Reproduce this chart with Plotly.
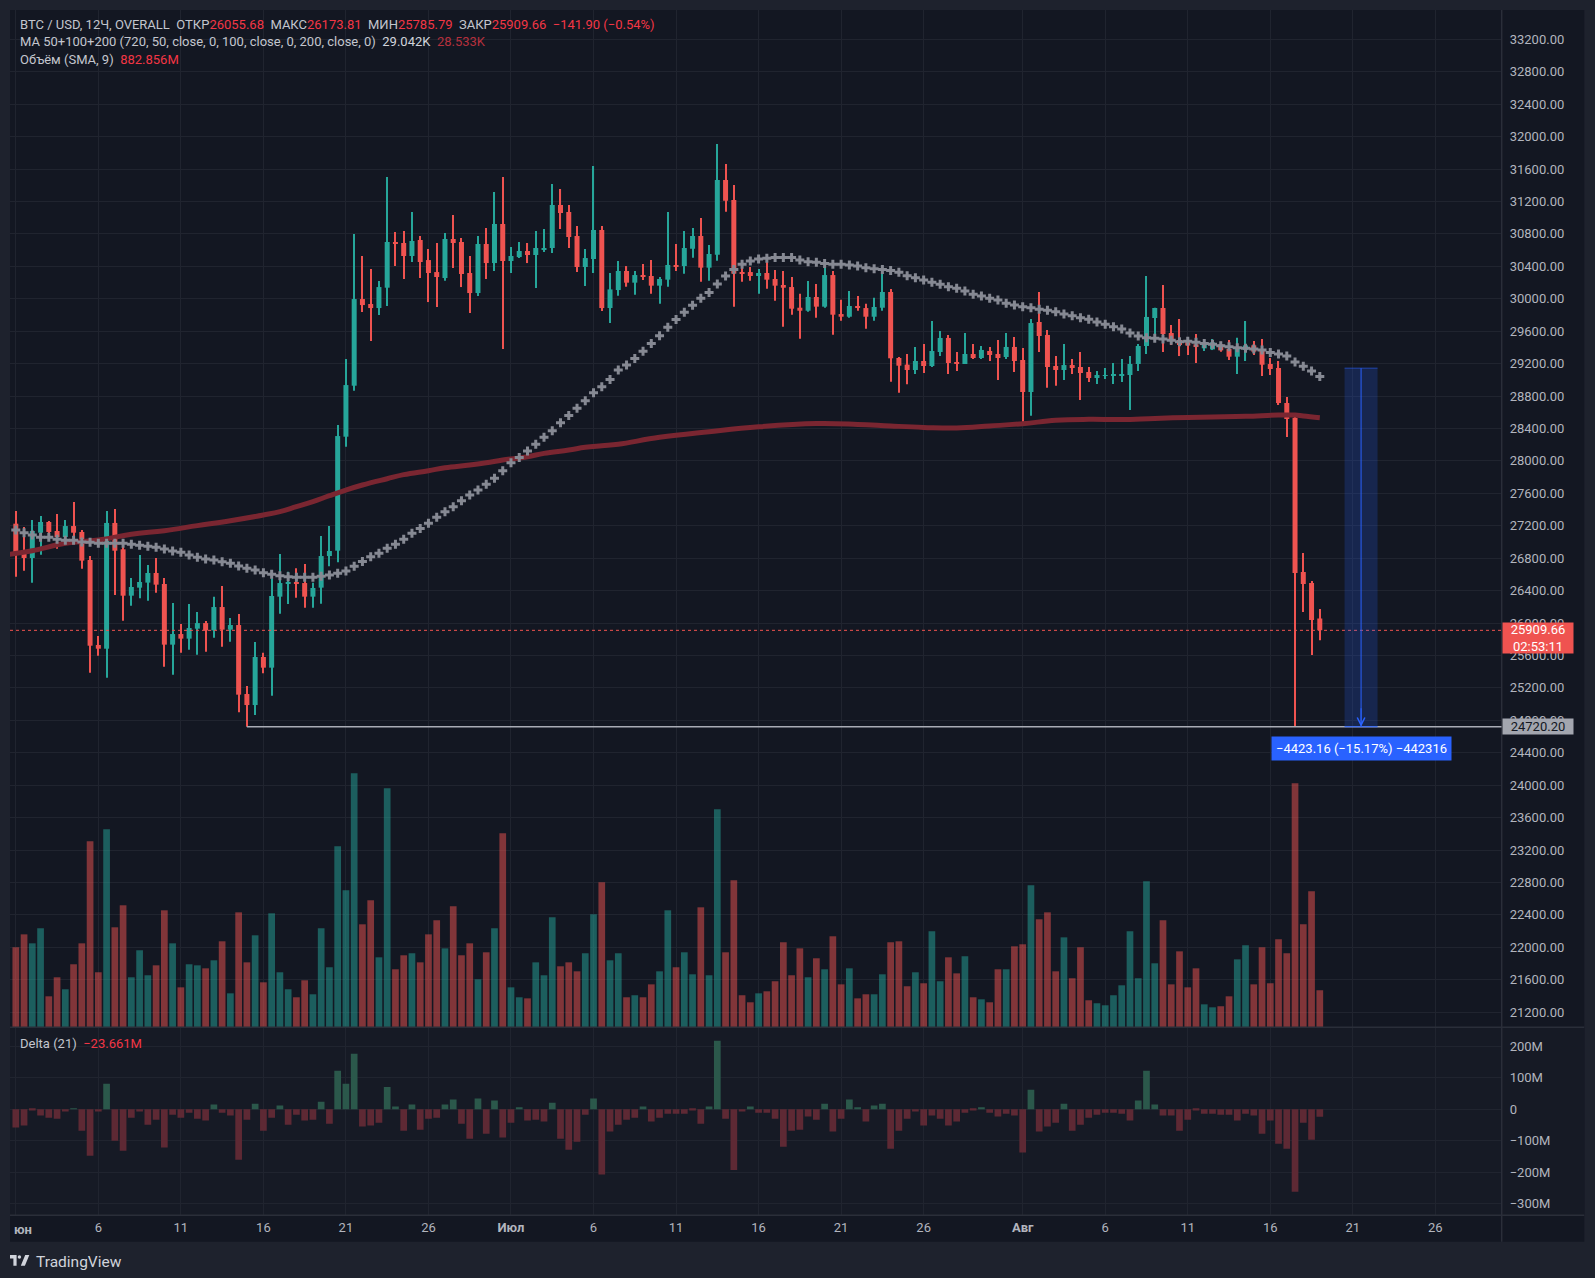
import pandas as pd
import plotly.graph_objects as go

# BTC / USD, 12h candles, OVERALL index: 1 Jun 2023 00:00 ... 19 Aug 2023 00:00
first_bar = "2023-06-01 00:00"

opens = [
    27225, 26888, 26802, 27114, 27246, 27135, 27061, 27196, 27123, 26777,
    25729, 25683, 27234, 26909, 26337, 26436, 26498, 26617, 26481, 25733,
    25864, 25807, 25930, 25999, 25909, 26197, 25918, 25975, 25124, 24988,
    25581, 25449, 26325, 26489, 26506, 26493, 26325, 26436, 26826, 26892,
    28298, 28927, 29996, 29935, 29885, 30136, 30699, 30687, 30527, 30724,
    30477, 30329, 30255, 30737, 30699, 30317, 30070, 30675, 30440, 30922,
    30465, 30514, 30588, 30539, 30613, 30625, 31156, 31070, 30774, 30391,
    30490, 30848, 29885, 30107, 30342, 30198, 30292, 30280, 30161, 30235,
    30416, 30403, 30617, 30774, 30383, 30543, 31464, 31218, 30317, 30329,
    30280, 30317, 30243, 30169, 30144, 29889, 29852, 30021, 29902, 30292,
    29811, 29778, 29910, 29885, 29778, 29889, 30083, 29269, 29187, 29121,
    29232, 29170, 29343, 29516, 29219, 29195, 29318, 29269, 29355, 29318,
    29281, 29405, 29244, 28849, 29713, 29553, 29170, 29121, 29182, 29158,
    29096, 29022, 29047, 29047, 29059, 29059, 29195, 29417, 29762, 29886,
    29577, 29491, 29462, 29437, 29388, 29375, 29437, 29380, 29285, 29367,
    29425, 29355, 29194, 29145, 28713, 28532, 26629, 26493, 26056,
]
highs = [
    27382, 27184, 27270, 27320, 27258, 27345, 27270, 27493, 27147, 26826,
    25840, 27382, 27406, 26942, 26555, 26839, 26716, 26802, 26555, 26247,
    25988, 26234, 26136, 26025, 26325, 26456, 26062, 26111, 25223, 25766,
    25634, 26551, 26851, 26633, 26674, 26728, 26498, 27073, 27196, 28442,
    29256, 30798, 30527, 30366, 30218, 31501, 30823, 30835, 31070, 30774,
    30613, 30687, 30811, 31032, 30749, 30527, 30774, 30872, 31316, 31501,
    30638, 30699, 30687, 30835, 30860, 31415, 31353, 31156, 30897, 30613,
    31637, 30897, 30317, 30465, 30403, 30342, 30428, 30477, 30268, 31069,
    30675, 30835, 30872, 30995, 30662, 31908, 31662, 31403, 30416, 30391,
    30366, 30477, 30354, 30342, 30268, 30062, 30218, 30181, 30444, 30342,
    29988, 30095, 30033, 29939, 30013, 30391, 30120, 29280, 29318, 29405,
    29441, 29725, 29602, 29553, 29343, 29577, 29441, 29417, 29405, 29491,
    29577, 29528, 29392, 29750, 30083, 29614, 29293, 29441, 29256, 29343,
    29158, 29108, 29145, 29207, 29256, 29293, 29441, 30280, 29890, 30169,
    29676, 29750, 29510, 29565, 29491, 29503, 29470, 29491, 29519, 29725,
    29478, 29503, 29268, 29231, 28787, 28574, 26863, 26518, 26174,
]
lows = [
    26572, 26646, 26497, 26843, 27106, 26917, 26958, 26983, 26670, 25387,
    25597, 25326, 26345, 26029, 26214, 26304, 26275, 26374, 25461, 25363,
    25634, 25671, 25609, 25646, 25819, 25708, 25770, 24900, 24720, 24865,
    25379, 25104, 26115, 26234, 26312, 26189, 26189, 26238, 26700, 26750,
    28175, 28866, 29836, 29478, 29799, 29910, 30403, 30243, 30453, 30255,
    29959, 29898, 30222, 30379, 30144, 29824, 30033, 30243, 30342, 29380,
    30317, 30502, 30440, 30132, 30576, 30564, 30860, 30625, 30329, 30157,
    30317, 29848, 29700, 30037, 30148, 30050, 30231, 30062, 29939, 30148,
    30342, 30309, 30506, 30210, 30223, 30469, 31074, 29902, 30210, 30223,
    30062, 30124, 29976, 29655, 29803, 29507, 29840, 29766, 29889, 29556,
    29729, 29766, 29852, 29630, 29729, 29852, 28977, 28841, 28944, 29071,
    29084, 29158, 29293, 29071, 29108, 29195, 29256, 29256, 29232, 28997,
    29256, 29096, 28483, 28557, 29343, 28903, 28927, 28997, 29071, 28751,
    28972, 28948, 29010, 28948, 28972, 28627, 29108, 29318, 29466, 29343,
    29429, 29293, 29306, 29207, 29355, 29367, 29347, 29244, 29071, 29232,
    29306, 29046, 29059, 28689, 28294, 24720, 26135, 25605, 25786,
]
closes = [
    26876, 26802, 27135, 27246, 27123, 27061, 27196, 27114, 26769, 25720,
    25683, 27234, 26892, 26337, 26444, 26506, 26617, 26473, 25733, 25864,
    25807, 25938, 25999, 25909, 26197, 25918, 25975, 25116, 24988, 25581,
    25449, 26333, 26493, 26506, 26481, 26325, 26432, 26826, 26888, 28306,
    28935, 29996, 29922, 29885, 30144, 30699, 30675, 30527, 30712, 30453,
    30317, 30268, 30737, 30687, 30305, 30070, 30675, 30440, 30922, 30465,
    30527, 30588, 30539, 30625, 30625, 31156, 31057, 30761, 30391, 30502,
    30848, 29885, 30115, 30342, 30198, 30292, 30268, 30161, 30243, 30416,
    30403, 30625, 30774, 30383, 30551, 31464, 31209, 30309, 30309, 30280,
    30317, 30235, 30161, 30136, 29877, 29852, 30021, 29902, 30292, 29803,
    29778, 29910, 29889, 29778, 29898, 30083, 29265, 29174, 29121, 29232,
    29170, 29355, 29516, 29207, 29195, 29318, 29269, 29368, 29306, 29269,
    29405, 29232, 28849, 29700, 29540, 29158, 29121, 29182, 29145, 29084,
    29022, 29059, 29059, 29071, 29071, 29195, 29417, 29775, 29886, 29565,
    29491, 29429, 29423, 29404, 29429, 29462, 29363, 29285, 29388, 29425,
    29347, 29186, 29133, 28713, 28516, 26616, 26481, 26037, 25910,
]
# volume per bar, millions
volume_m = [
    749, 870, 786, 927, 290, 468, 356, 590, 786, 1741,
    515, 1853, 936, 1142, 468, 721, 487, 580, 1095, 786,
    374, 590, 580, 552, 627, 805, 318, 1076, 608, 861,
    421, 1067, 515, 356, 281, 440, 309, 927, 562, 1694,
    1282, 2377, 964, 1189, 655, 2237, 543, 674, 693, 608,
    870, 1002, 739, 1133, 674, 786, 449, 702, 927, 1816,
    374, 281, 271, 608, 487, 1030, 571, 608, 524, 693,
    1058, 1357, 627, 693, 281, 300, 281, 402, 524, 1095,
    562, 702, 496, 1123, 487, 2040, 702, 1376, 300, 234,
    318, 337, 431, 796, 487, 739, 468, 646, 543, 852,
    402, 552, 271, 309, 309, 496, 796, 805, 384, 515,
    412, 899, 431, 655, 505, 665, 281, 262, 234, 543,
    543, 758, 777, 1329, 1011, 1076, 524, 842, 459, 749,
    253, 225, 206, 300, 393, 899, 459, 1367, 599, 1002,
    402, 711, 374, 552, 215, 187, 197, 290, 636, 768,
    402, 749, 412, 824, 693, 2284, 964, 1273, 346,
]
# Delta (21), millions
delta_m = [
    -58, -52, -4, -20, -27, -30, -7, 2, -68, -148,
    -7, 81, -100, -132, -27, -7, -49, -33, -122, -17,
    -27, -11, -30, -36, 15, -11, -20, -161, -33, 18,
    -68, -27, 12, -49, -17, -36, -33, 24, -46, 123,
    81, 177, -55, -52, -43, 71, 9, -68, 15, -65,
    -30, -27, 15, 31, -46, -94, 34, -78, 28, -90,
    -43, 5, -36, -33, -39, 21, -94, -129, -103, -17,
    34, -208, -71, -49, -33, -27, 9, -39, -27, -14,
    -14, -14, -4, -46, 9, 218, -30, -193, -7, 9,
    -11, -11, -30, -119, -68, -65, -23, -33, 18, -71,
    -30, 31, 5, -39, 12, 18, -126, -68, -30, -7,
    -52, -20, -30, -52, -39, -11, -4, 5, -11, -23,
    -14, -20, -138, 62, -71, -55, -43, 18, -68, -49,
    -27, -17, -11, -11, -14, -36, 28, 123, 15, -20,
    -20, -68, -33, -4, -14, -14, -17, -17, -36, -14,
    -20, -78, -36, -110, -126, -263, -43, -97, -23.661,
]
# MA 50 (grey crosses), one value per bar
ma50 = [
    27147, 27114, 27085, 27057, 27057, 27032, 27020, 27020, 27000, 26995,
    26983, 26983, 26983, 26983, 26970, 26958, 26946, 26933, 26913, 26888,
    26872, 26839, 26810, 26789, 26777, 26757, 26736, 26703, 26674, 26654,
    26621, 26600, 26584, 26572, 26563, 26563, 26563, 26576, 26592, 26613,
    26640, 26700, 26760, 26818, 26859, 26921, 26970, 27032, 27106, 27167,
    27229, 27303, 27373, 27435, 27509, 27579, 27640, 27710, 27784, 27879,
    27977, 28043, 28121, 28204, 28290, 28372, 28471, 28561, 28648, 28742,
    28841, 28915, 29005, 29120, 29182, 29264, 29351, 29449, 29544, 29647,
    29745, 29832, 29918, 30005, 30078, 30181, 30280, 30362, 30424, 30465,
    30490, 30498, 30510, 30510, 30510, 30477, 30457, 30449, 30436, 30424,
    30424, 30416, 30403, 30383, 30370, 30362, 30348, 30326, 30284, 30260,
    30231, 30202, 30177, 30149, 30128, 30095, 30054, 30034, 30005, 29984,
    29943, 29923, 29902, 29890, 29869, 29857, 29840, 29812, 29791, 29766,
    29746, 29713, 29684, 29655, 29627, 29577, 29540, 29520, 29511, 29503,
    29487, 29470, 29476, 29462, 29449, 29437, 29421, 29408, 29396, 29388,
    29380, 29367, 29338, 29318, 29293, 29219, 29166, 29108, 29042,
]
# slow MA (dark red line), read at these bar numbers
ma200_bar = [-1, 2, 6, 10, 14, 18, 22, 26, 30, 32, 34, 36, 38, 40, 42, 45, 47,
             50, 52, 55, 57, 59, 62, 64, 67, 69, 71, 73, 78, 84, 90, 97, 102,
             106, 110, 114, 118, 122, 126, 130, 134, 138, 142, 145, 149, 153,
             155, 156, 158]
ma200 = [26845, 26892, 26983, 27024, 27094, 27139, 27201, 27262, 27332, 27373,
         27435, 27497, 27570, 27640, 27702, 27780, 27830, 27879, 27915, 27949,
         27977, 28010, 28051, 28092, 28134, 28167, 28187, 28205, 28290, 28360,
         28420, 28460, 28450, 28430, 28413, 28405, 28430, 28458, 28500, 28512,
         28510, 28524, 28535, 28541, 28549, 28565, 28565, 28553, 28533]

tick_days = ["2023-06-01", "2023-06-06", "2023-06-11", "2023-06-16", "2023-06-21",
             "2023-06-26", "2023-07-01", "2023-07-06", "2023-07-11", "2023-07-16",
             "2023-07-21", "2023-07-26", "2023-08-01", "2023-08-06", "2023-08-11",
             "2023-08-16", "2023-08-21", "2023-08-26"]
tick_text = ["", "6", "11", "16", "21", "26", "<b>Июл</b>", "6", "11", "16", "21",
             "26", "<b>Авг</b>", "6", "11", "16", "21", "26"]
price_ticks = list(range(21200, 33201, 400))
delta_ticks = [200, 100, 0, -100, -200, -300]
delta_text = ["200M", "100M", "0", "−100M", "−200M", "−300M"]

level_low = 24720.20      # horizontal ray from the June low
level_from_bar = 28
range_top = 29143.36      # date/price range tool
range_bars = (161, 165)
last_price = 25909.66
countdown = "02:53:11"

UP, DOWN = "#26a69a", "#ef5350"
BG, FRAME, GRID, BORDER = "#131722", "#1e222d", "#20242f", "#2a2e39"
TXT = "#b2b5be"
FONT = "Roboto"

W, H = 1595, 1278
BAR_H = 12
PX_MS = BAR_H * 3600e3 / 8.253   # one screen pixel in ms


def fx(px):
    return px / W


def fy(py):
    return 1 - py / H


def bar_time(i):
    return pd.Timestamp(first_bar) + pd.Timedelta(hours=BAR_H * i)


bars = pd.date_range(first_bar, periods=len(opens), freq="12h")
up = [c >= o for o, c in zip(opens, closes)]
col = [UP if u else DOWN for u in up]
vol_col = ["rgba(38,166,154,0.5)" if u else "rgba(239,83,80,0.5)" for u in up]
delta_col = ["#2b584b" if d >= 0 else "#5e2934" for d in delta_m]
body_base = [min(o, c) for o, c in zip(opens, closes)]
body_h = [max(abs(c - o), 12) for o, c in zip(opens, closes)]
wick_h = [h - l for h, l in zip(highs, lows)]

x_range = [bar_time(-0.703), bar_time(180.04)]

fig = go.Figure()
fig.add_trace(go.Bar(x=bars, y=volume_m, width=6.7 * PX_MS, marker_color=vol_col,
                     marker_line_width=0, xaxis="x", yaxis="y"))
fig.add_trace(go.Bar(x=bars, y=wick_h, base=lows, width=1.1 * PX_MS, marker_color=col,
                     marker_line_width=0, xaxis="x", yaxis="y2"))
fig.add_trace(go.Bar(x=bars, y=body_h, base=body_base, width=5 * PX_MS, marker_color=col,
                     marker_line_width=0, xaxis="x", yaxis="y2"))
fig.add_trace(go.Scatter(x=[bar_time(i) for i in ma200_bar], y=ma200, mode="lines",
                         line=dict(color="#7a2631", width=5, shape="spline", smoothing=1.2),
                         xaxis="x", yaxis="y2"))
fig.add_trace(go.Scatter(x=bars, y=ma50, mode="markers",
                         marker=dict(symbol="cross", size=7.5, color="#868993",
                                     line_width=0),
                         xaxis="x", yaxis="y2", cliponaxis=True))
fig.add_trace(go.Bar(x=bars, y=delta_m, width=6.7 * PX_MS, marker_color=delta_col,
                     marker_line_width=0, xaxis="x2", yaxis="y3"))

shapes = [
    # panel backgrounds
    dict(type="rect", xref="paper", yref="paper", x0=fx(10), x1=fx(1584.3),
         y0=fy(1241.7), y1=fy(10), fillcolor=BG, line_width=0, layer="below"),
    dict(type="rect", xref="paper", yref="paper", x0=fx(10), x1=fx(1584.3),
         y0=fy(1215.3), y1=fy(1027.3), fillcolor="#161a25", line_width=0, layer="below"),
    # pane separators
    dict(type="line", xref="paper", yref="paper", x0=fx(10), x1=fx(1584.3),
         y0=fy(1027.3), y1=fy(1027.3), line=dict(color=BORDER, width=1.5)),
    dict(type="line", xref="paper", yref="paper", x0=fx(10), x1=fx(1584.3),
         y0=fy(1215.3), y1=fy(1215.3), line=dict(color=BORDER, width=1.5)),
    dict(type="line", xref="paper", yref="paper", x0=fx(1501.7), x1=fx(1501.7),
         y0=fy(1241.7), y1=fy(10), line=dict(color=BORDER, width=1.5)),
    # last price dotted line
    dict(type="line", xref="paper", yref="y2", x0=fx(10), x1=fx(1501.7),
         y0=last_price, y1=last_price, line=dict(color=DOWN, width=1, dash="dot")),
    # horizontal ray
    dict(type="line", xref="x", yref="y2", x0=bar_time(level_from_bar), x1=x_range[1],
         y0=level_low, y1=level_low, line=dict(color="#a9acb5", width=1.6)),
    # date/price range
    dict(type="rect", xref="x", yref="y2", x0=bar_time(range_bars[0]),
         x1=bar_time(range_bars[1]), y0=level_low, y1=range_top,
         fillcolor="rgba(41,98,255,0.2)", line_width=0),
    dict(type="line", xref="x", yref="y2", x0=bar_time(range_bars[0]),
         x1=bar_time(range_bars[1]), y0=range_top, y1=range_top,
         line=dict(color="rgba(41,98,255,0.6)", width=1)),
    dict(type="line", xref="x", yref="y2", x0=bar_time(range_bars[0]),
         x1=bar_time(range_bars[1]), y0=level_low, y1=level_low,
         line=dict(color="#2962ff", width=1)),
    dict(type="line", xref="x", yref="y2", x0=bar_time(sum(range_bars) / 2),
         x1=bar_time(sum(range_bars) / 2), y0=level_low, y1=range_top,
         line=dict(color="#2962ff", width=1)),
    # TradingView logo mark
    dict(type="path", xref="paper", yref="paper", fillcolor="#d1d4dc", line_width=0,
         path=f"M{fx(10)},{fy(1255)} L{fx(16.6)},{fy(1255)} L{fx(16.6)},{fy(1265.7)} "
              f"L{fx(13.4)},{fy(1265.7)} L{fx(13.4)},{fy(1258.4)} L{fx(10)},{fy(1258.4)} Z"),
    dict(type="circle", xref="paper", yref="paper", fillcolor="#d1d4dc", line_width=0,
         x0=fx(17.7), x1=fx(21.1), y0=fy(1258.7), y1=fy(1255.3)),
    dict(type="path", xref="paper", yref="paper", fillcolor="#d1d4dc", line_width=0,
         path=f"M{fx(20.8)},{fy(1265.7)} L{fx(24.9)},{fy(1265.7)} L{fx(29.3)},{fy(1255)} "
              f"L{fx(25.2)},{fy(1255)} Z"),
]

red = "#f23645"


def span(t, c):
    return f"<span style='color:{c}'>{t}</span>"


sp = "\u00a0\u00a0"
header1 = ("BTC / USD, 12Ч, OVERALL" + sp + "ОТКР" + span("26055.68", red) + sp
           + "МАКС" + span("26173.81", red) + sp + "МИН" + span("25785.79", red) + sp
           + "ЗАКР" + span("25909.66", red) + sp + span("−141.90 (−0.54%)", red))
header2 = ("MA 50+100+200 (720, 50, close, 0, 100, close, 0, 200, close, 0)" + sp
           + span("29.042K", "#d1d4dc") + sp + span("28.533K", "#b5303d"))
header3 = "Объём (SMA, 9)" + sp + span("882.856M", red)

annotations = [
    dict(xref="paper", yref="paper", x=fx(18.3), y=fy(24.4), text=header1),
    dict(xref="paper", yref="paper", x=fx(18.3), y=fy(41.7), text=header2),
    dict(xref="paper", yref="paper", x=fx(18.3), y=fy(59), text=header3),
    dict(xref="paper", yref="paper", x=fx(18.3), y=fy(1043.7),
         text="Delta (21)" + sp + span("−23.661M", red)),
    dict(xref="paper", yref="paper", x=fx(11.5), y=fy(1229), text="<b>юн</b>",
         font=dict(color=TXT, size=13, family=FONT)),
    dict(xref="paper", yref="paper", x=fx(33.5), y=fy(1261.5), text="TradingView",
         font=dict(color="#d1d4dc", size=15.5, family=FONT)),
]
for a in annotations:
    a.update(xanchor="left", yanchor="middle", showarrow=False)
    a.setdefault("font", dict(color="#c3c6ce", size=13, family=FONT))

annotations += [
    # price tags on the axis
    dict(xref="paper", yref="y2", x=fx(1501.7), y=last_price, xanchor="left",
         yanchor="top", yshift=8, showarrow=False, text=f"{last_price:.2f}<br>{countdown}",
         bgcolor=DOWN, width=68, height=28, borderpad=1, align="center",
         font=dict(color="#ffffff", size=13, family=FONT)),
    dict(xref="paper", yref="y2", x=fx(1501.7), y=level_low, xanchor="left",
         yanchor="middle", showarrow=False, text=f"{level_low:.2f}",
         bgcolor="#a3a6af", width=68, height=13, borderpad=1, align="center",
         font=dict(color="#131722", size=13, family=FONT)),
    # range tool label and arrow head
    dict(xref="x", yref="y2", x=bar_time(sum(range_bars) / 2), y=level_low,
         yanchor="top", yshift=-9, showarrow=False,
         text=f"−{range_top - level_low:.2f} (−15.17%) −442316",
         bgcolor="#2962ff", borderpad=4, font=dict(color="#ffffff", size=13, family=FONT)),
    dict(xref="x", yref="y2", x=bar_time(sum(range_bars) / 2), y=level_low, ax=0, ay=-20,
         showarrow=True, arrowhead=5, arrowsize=1.5, arrowwidth=1, arrowcolor="#2962ff",
         text=""),
]

axis_font = dict(color=TXT, size=13, family=FONT)
price_dom = [fy(1027.3), fy(10)]
delta_dom = [fy(1215.3), fy(1027.3)]

fig.update_layout(
    width=W, height=H, margin=dict(l=0, r=0, t=0, b=0),
    paper_bgcolor=FRAME, plot_bgcolor="rgba(0,0,0,0)",
    showlegend=False, hovermode=False, barmode="overlay",
    shapes=shapes, annotations=annotations,
    xaxis=dict(domain=[fx(10), fx(1501.7)], range=x_range, type="date", anchor="y",
               tickvals=tick_days, showticklabels=False, showgrid=True, gridcolor=GRID,
               zeroline=False, showline=False, ticks=""),
    xaxis2=dict(domain=[fx(10), fx(1501.7)], range=x_range, type="date", anchor="y3",
                tickvals=tick_days, ticktext=tick_text, showgrid=True, gridcolor=GRID,
                zeroline=False, showline=False, ticks="", tickfont=axis_font,
                ticklabelstandoff=3),
    yaxis=dict(domain=price_dom, range=[0, 9522], visible=False, fixedrange=True),
    yaxis2=dict(overlaying="y", side="right", anchor="x", range=[21013, 33561.4],
                tickvals=price_ticks, ticktext=[f"{v:.2f}" for v in price_ticks],
                showgrid=True, gridcolor=GRID, zeroline=False, showline=False, ticks="",
                tickfont=axis_font, ticklabelstandoff=7),
    yaxis3=dict(domain=delta_dom, side="right", anchor="x2", range=[-337.6, 261.1],
                tickvals=delta_ticks, ticktext=delta_text, showgrid=True, gridcolor=GRID,
                zeroline=False, showline=False, ticks="", tickfont=axis_font,
                ticklabelstandoff=7),
)

fig.write_html("out.html", config={"displayModeBar": False},
               post_script="document.body.style.margin='0';document.body.style.overflow='hidden';")
